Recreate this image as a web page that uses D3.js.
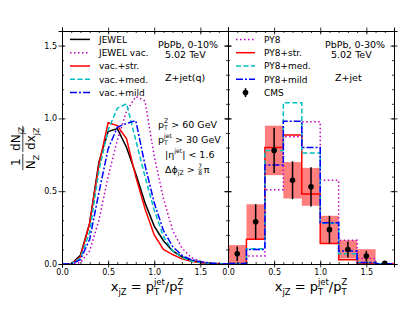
<!DOCTYPE html>
<html>
<head>
<meta charset="utf-8">
<script src="https://cdn.jsdelivr.net/npm/d3@7"></script>
<style>
	body { margin: 0; background: #fff; }
	text { font-family: "DejaVu Sans", sans-serif; white-space: pre; fill: #000; }
</style>
</head>
<body>
<script>
// ---- data ----
// left panel: JEWEL curves sampled every 0.1 in x_jZ
const xGrid = [0, 0.1, 0.2, 0.3, 0.4, 0.5, 0.6, 0.7, 0.8, 0.9, 1.0, 1.1, 1.2, 1.3, 1.4, 1.5, 1.6, 1.7, 1.8];
const jewel    = [0, 0, 0.06, 0.28, 0.70, 0.91, 0.93, 0.80, 0.62, 0.42, 0.26, 0.16, 0.09, 0.05, 0.025, 0.012, 0.005, 0.002, 0];
const jewelVac = [0, 0, 0.01, 0.09, 0.30, 0.60, 0.85, 1.05, 1.15, 1.12, 0.74, 0.45, 0.23, 0.11, 0.045, 0.018, 0.008, 0.003, 0];
const vacStr   = [0, 0, 0.05, 0.28, 0.68, 0.97, 0.95, 0.86, 0.60, 0.38, 0.20, 0.10, 0.065, 0.035, 0.018, 0.008, 0.003, 0.001, 0];
const vacMed   = [0, 0, 0.04, 0.22, 0.64, 0.92, 1.07, 1.10, 0.85, 0.60, 0.37, 0.19, 0.09, 0.045, 0.02, 0.01, 0.005, 0.002, 0];
const vacMild  = [0, 0, 0.03, 0.17, 0.49, 0.79, 0.94, 0.965, 0.985, 0.68, 0.42, 0.23, 0.12, 0.06, 0.03, 0.015, 0.006, 0.002, 0];

// right panel: histograms with bins of 0.2
const binEdges = [0, 0.2, 0.4, 0.6, 0.8, 1.0, 1.2, 1.4, 1.6, 1.8];
const py8     = [0.002, 0.055, 0.51, 0.873, 0.976, 0.575, 0.163, 0.037, 0.003];
const py8Str  = [0.005, 0.17, 0.80, 0.885, 0.48, 0.14, 0.03, 0.005, 0.001];
const py8Med  = [0.004, 0.105, 0.78, 1.107, 0.763, 0.28, 0.07, 0.01, 0.001];
const py8Mild = [0.003, 0.10, 0.68, 0.98, 0.80, 0.284, 0.09, 0.01, 0.001];

// CMS data
const cmsX    = [0.1, 0.3, 0.5, 0.7, 0.9, 1.1, 1.3, 1.5, 1.7];
const cmsY    = [0.07, 0.29, 0.78, 0.575, 0.53, 0.236, 0.10, 0.055, 0.004];
const cmsStat = [0.05, 0.12, 0.155, 0.13, 0.135, 0.095, 0.055, 0.035, 0.005];
const cmsSys  = [0.06, 0.12, 0.17, 0.125, 0.13, 0.095, 0.063, 0.047, 0];

const xTicks = [0, 0.5, 1.0, 1.5];
const yTicks = [0, 0.5, 1.0, 1.5];
const minorX = d3.range(0, 18).map(d => d / 10);
const minorY = d3.range(0, 17).map(d => d / 10);

const colors = { black: "#000", magenta: "#bf00bf", red: "#ff0000", cyan: "#00bfbf", blue: "#0000ff" };
const dashes = { solid: null, dot: "1.5,2.5", dash: "5,2.5", dashdot: "7,2,2,2" };

const svg = d3.select("body").append("svg")
	.attr("width", 415)
	.attr("height", 311);

const plotTop = 31, plotBottom = 264;
const y = d3.scaleLinear().domain([0, 1.6]).range([plotBottom, plotTop]);
const xL = d3.scaleLinear().domain([0, 1.8]).range([62, 228]);
const xR = d3.scaleLinear().domain([0, 1.8]).range([228, 394]);

let translate = function(a, b) {
	return "translate(" + a + "," + b + ")";
};

// little mathtext-like helper: pieces are [base, sub, sup]
function mathText(parent, pieces, size) {
	const g = parent.append("g");
	let cx = 0;
	pieces.forEach(function(p) {
		const base = p[0], sub = p[1], sup = p[2];
		if (base) {
			const t = g.append("text").attr("x", cx).attr("font-size", size).text(base);
			cx += t.node().getComputedTextLength();
		}
		let w = 0;
		if (sub) {
			const t = g.append("text").attr("x", cx).attr("y", size * 0.3).attr("font-size", size * 0.65).text(sub);
			w = Math.max(w, t.node().getComputedTextLength());
		}
		if (sup) {
			const t = g.append("text").attr("x", cx).attr("y", -size * 0.5).attr("font-size", size * 0.65).text(sup);
			w = Math.max(w, t.node().getComputedTextLength());
		}
		cx += w;
	});
	return { g: g, width: cx };
}

function drawFrame(x, showYLabels) {
	const g = svg.append("g");
	// bottom
	g.append("g").attr("transform", translate(0, plotBottom))
		.call(d3.axisBottom(x).tickValues(xTicks).tickSize(3.5).tickPadding(1.5).tickFormat(d3.format(".1f")));
	g.append("g").attr("transform", translate(0, plotBottom))
		.call(d3.axisBottom(x).tickValues(xTicks).tickSize(-3.5).tickFormat(""));
	g.append("g").attr("transform", translate(0, plotBottom))
		.call(d3.axisBottom(x).tickValues(minorX).tickSize(-2).tickFormat(""));
	// top
	g.append("g").attr("transform", translate(0, plotTop))
		.call(d3.axisTop(x).tickValues(xTicks).tickSize(3.5).tickFormat(""));
	g.append("g").attr("transform", translate(0, plotTop))
		.call(d3.axisTop(x).tickValues(xTicks).tickSize(-3.5).tickFormat(""));
	g.append("g").attr("transform", translate(0, plotTop))
		.call(d3.axisTop(x).tickValues(minorX).tickSize(-2).tickFormat(""));
	// left
	const x0 = x.range()[0], x1 = x.range()[1];
	g.append("g").attr("transform", translate(x0, 0))
		.call(d3.axisLeft(y).tickValues(yTicks).tickSize(3.5).tickPadding(1.5)
			.tickFormat(showYLabels ? d3.format(".1f") : ""));
	g.append("g").attr("transform", translate(x0, 0))
		.call(d3.axisLeft(y).tickValues(yTicks).tickSize(-3.5).tickFormat(""));
	g.append("g").attr("transform", translate(x0, 0))
		.call(d3.axisLeft(y).tickValues(minorY).tickSize(-2).tickFormat(""));
	// right
	g.append("g").attr("transform", translate(x1, 0))
		.call(d3.axisRight(y).tickValues(yTicks).tickSize(3.5).tickFormat(""));
	g.append("g").attr("transform", translate(x1, 0))
		.call(d3.axisRight(y).tickValues(yTicks).tickSize(-3.5).tickFormat(""));
	g.append("g").attr("transform", translate(x1, 0))
		.call(d3.axisRight(y).tickValues(minorY).tickSize(-2).tickFormat(""));

	g.selectAll(".domain").attr("stroke", "#000").attr("stroke-width", 1);
	g.selectAll(".tick line").attr("stroke", "#000").attr("stroke-width", 0.8);
	g.selectAll(".tick text").attr("font-size", 8).attr("font-family", "DejaVu Sans");
}

// clip paths
const defs = svg.append("defs");
defs.append("clipPath").attr("id", "clipL").append("rect")
	.attr("x", 62).attr("y", plotTop).attr("width", 166).attr("height", plotBottom - plotTop);
defs.append("clipPath").attr("id", "clipR").append("rect")
	.attr("x", 228).attr("y", plotTop).attr("width", 166).attr("height", plotBottom - plotTop);

// ---- left panel: curves ----
const leftSeries = [
	{ name: "JEWEL", vals: jewel, color: colors.black, dash: dashes.solid },
	{ name: "JEWEL vac.", vals: jewelVac, color: colors.magenta, dash: dashes.dot },
	{ name: "vac.+str.", vals: vacStr, color: colors.red, dash: dashes.solid },
	{ name: "vac.+med.", vals: vacMed, color: colors.cyan, dash: dashes.dash },
	{ name: "vac.+mild", vals: vacMild, color: colors.blue, dash: dashes.dashdot }
];

const gLeft = svg.append("g").attr("clip-path", "url(#clipL)");
const lineL = d3.line().x((d, i) => xL(xGrid[i])).y(d => y(d));
for (const s of leftSeries) {
	gLeft.append("path")
		.datum(s.vals)
		.attr("d", lineL)
		.attr("fill", "none")
		.attr("stroke", s.color)
		.attr("stroke-width", 1.5)
		.attr("stroke-dasharray", s.dash);
}

// ---- right panel: CMS boxes, histograms, points ----
const gRight = svg.append("g").attr("clip-path", "url(#clipR)");

gRight.selectAll("rect.sys")
	.data(cmsX.map((d, i) => i).filter(i => cmsSys[i] > 0))
	.enter().append("rect")
	.attr("class", "sys")
	.attr("x", i => xR(binEdges[i]))
	.attr("width", i => xR(binEdges[i + 1]) - xR(binEdges[i]))
	.attr("y", i => y(cmsY[i] + cmsSys[i]))
	.attr("height", i => y(cmsY[i] - cmsSys[i]) - y(cmsY[i] + cmsSys[i]))
	.attr("fill", "#ff0000")
	.attr("fill-opacity", 0.5);

const rightSeries = [
	{ name: "PY8", vals: py8, color: colors.magenta, dash: dashes.dot },
	{ name: "PY8+str.", vals: py8Str, color: colors.red, dash: dashes.solid },
	{ name: "PY8+med.", vals: py8Med, color: colors.cyan, dash: dashes.dash },
	{ name: "PY8+mild", vals: py8Mild, color: colors.blue, dash: dashes.dashdot }
];

const stepLine = d3.line().curve(d3.curveStepAfter).x(d => xR(d[0])).y(d => y(d[1]));
for (const s of rightSeries) {
	const pts = s.vals.map((v, i) => [binEdges[i], v]);
	pts.push([binEdges[binEdges.length - 1], s.vals[s.vals.length - 1]]);
	gRight.append("path")
		.datum(pts)
		.attr("d", stepLine)
		.attr("fill", "none")
		.attr("stroke", s.color)
		.attr("stroke-width", 1.5)
		.attr("stroke-dasharray", s.dash);
}

cmsX.forEach(function(cx, i) {
	gRight.append("line")
		.attr("x1", xR(cx)).attr("x2", xR(cx))
		.attr("y1", y(cmsY[i] - cmsStat[i])).attr("y2", y(cmsY[i] + cmsStat[i]))
		.attr("stroke", "#000").attr("stroke-width", 1.5);
	gRight.append("circle")
		.attr("cx", xR(cx)).attr("cy", y(cmsY[i]))
		.attr("r", 2.8).attr("fill", "#000");
});

// frames on top
drawFrame(xL, true);
drawFrame(xR, false);

// ---- legends ----
function legend(x0, x1, tx, series, extra) {
	const rowY = [42.7, 56, 69.3, 82.6, 95.9];
	series.forEach(function(s, i) {
		svg.append("line")
			.attr("x1", x0).attr("x2", x1)
			.attr("y1", rowY[i] - 3.3).attr("y2", rowY[i] - 3.3)
			.attr("stroke", s.color).attr("stroke-width", 1.5)
			.attr("stroke-dasharray", s.dash);
		svg.append("text").attr("x", tx).attr("y", rowY[i]).attr("font-size", 9).text(s.name);
	});
	if (extra) {
		const ry = rowY[series.length];
		const mx = (x0 + x1) / 2;
		svg.append("line")
			.attr("x1", mx).attr("x2", mx)
			.attr("y1", ry - 3.3 - 4.5).attr("y2", ry - 3.3 + 4.5)
			.attr("stroke", "#000").attr("stroke-width", 1.5);
		svg.append("circle").attr("cx", mx).attr("cy", ry - 3.3).attr("r", 2.8).attr("fill", "#000");
		svg.append("text").attr("x", tx).attr("y", ry).attr("font-size", 9).text(extra);
	}
}
legend(70, 90, 99, leftSeries, null);
legend(236, 255, 264, rightSeries, "CMS");

// ---- annotations ----
function label(x, yy, str, size) {
	svg.append("text").attr("x", x).attr("y", yy).attr("font-size", size).text(str);
}
label(158, 48, "PbPb, 0-10%", 9.5);
label(165, 57.5, "5.02 TeV", 9.5);
label(165, 80.7, "Z+jet(q)", 9.5);
label(325, 48, "PbPb, 0-30%", 9.5);
label(331, 57.5, "5.02 TeV", 9.5);
label(335, 80.7, "Z+jet", 9.5);

let m = mathText(svg, [["p", "T", "Z"], [" > 60 GeV"]], 9.5);
m.g.attr("transform", translate(158, 127.5));
m = mathText(svg, [["p", "T", "jet"], [" > 30 GeV"]], 9.5);
m.g.attr("transform", translate(158, 142.5));
m = mathText(svg, [["|η", null, "jet"], ["| < 1.6"]], 9.5);
m.g.attr("transform", translate(165, 157.5));
m = mathText(svg, [["Δϕ", "jZ"], [" > "]], 9.5);
m.g.attr("transform", translate(165, 172.5));
// small 7/8 fraction then pi
const fx = 165 + m.width + 2.5;
svg.append("text").attr("x", fx).attr("y", 168).attr("font-size", 6).attr("text-anchor", "middle").text("7");
svg.append("line").attr("x1", fx - 2.2).attr("x2", fx + 2.2).attr("y1", 169.3).attr("y2", 169.3)
	.attr("stroke", "#000").attr("stroke-width", 0.5);
svg.append("text").attr("x", fx).attr("y", 175).attr("font-size", 6).attr("text-anchor", "middle").text("8");
svg.append("text").attr("x", fx + 3.5).attr("y", 172.5).attr("font-size", 9.5).text("π");

// ---- x axis labels ----
[147, 311].forEach(function(cx) {
	const t = mathText(svg, [["x", "jZ"], [" = p", "T", "jet"], ["/p", "T", "Z"]], 13);
	t.g.attr("transform", translate(cx - t.width / 2, 291));
});

// ---- y axis label: 1/N_Z dN_jZ/dx_jZ rotated ----
function fraction(parent, num, den, size) {
	const g = parent.append("g");
	const a = mathText(g, num, size);
	const b = mathText(g, den, size);
	const w = Math.max(a.width, b.width) + 2;
	a.g.attr("transform", translate((w - a.width) / 2, -size * 0.3));
	b.g.attr("transform", translate((w - b.width) / 2, size * 0.95));
	g.append("line").attr("x1", 0).attr("x2", w).attr("y1", -size * 0.1).attr("y2", -size * 0.1)
		.attr("stroke", "#000").attr("stroke-width", 0.8);
	return { g: g, width: w };
}
const yl = svg.append("g");
const f1 = fraction(yl, [["1"]], [["N", "Z"]], 12);
const f2 = fraction(yl, [["dN", "jZ"]], [["dx", "jZ"]], 12);
f2.g.attr("transform", translate(f1.width + 2, 0));
const totalW = f1.width + 2 + f2.width;
yl.attr("transform", translate(24, 151) + " rotate(-90) " + translate(-totalW / 2 + 3, 0));
</script>
</body>
</html>
